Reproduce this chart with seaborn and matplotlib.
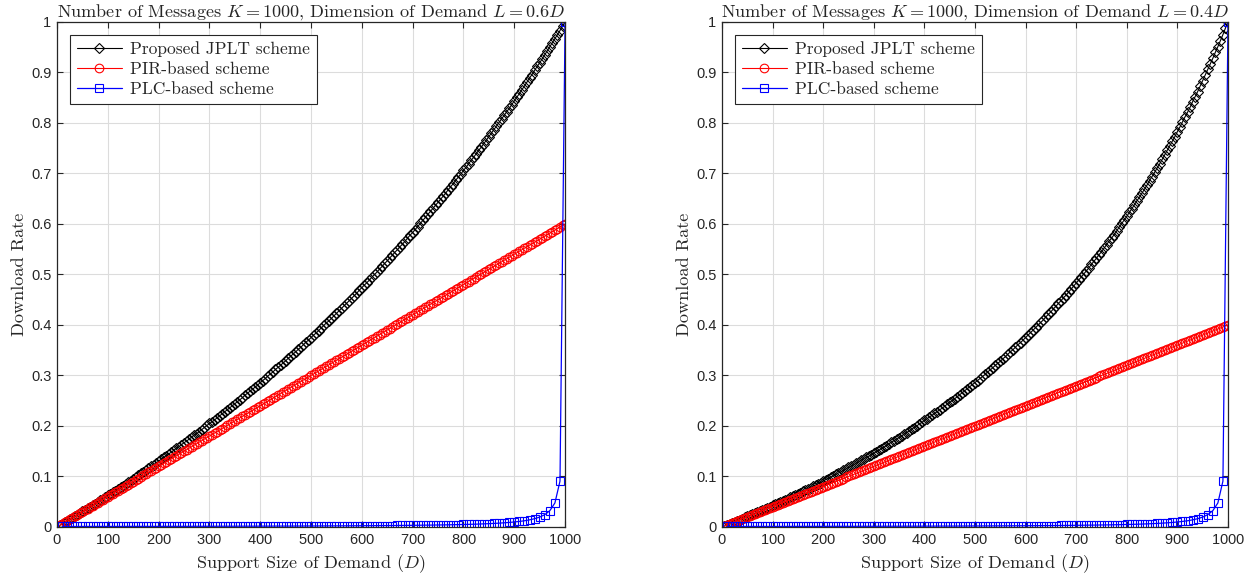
import numpy as np
import pandas as pd
import seaborn as sns
import matplotlib.pyplot as plt

# support size of demand D: JPLT / PIR marked every 5, PLC every 10
D5 = np.arange(5, 1001, 5)
D10 = np.arange(10, 1001, 10)

# left panel, L = 0.6D
jplt_06 = [0.003, 0.006, 0.009, 0.012, 0.015, 0.018, 0.021, 0.024, 0.027, 0.031,
           0.034, 0.037, 0.040, 0.043, 0.046, 0.050, 0.053, 0.056, 0.059, 0.063,
           0.066, 0.069, 0.072, 0.076, 0.079, 0.082, 0.086, 0.089, 0.092, 0.096,
           0.099, 0.103, 0.106, 0.109, 0.113, 0.116, 0.120, 0.123, 0.127, 0.130,
           0.134, 0.138, 0.141, 0.145, 0.148, 0.152, 0.156, 0.159, 0.163, 0.167,
           0.170, 0.174, 0.178, 0.182, 0.185, 0.189, 0.193, 0.197, 0.201, 0.205,
           0.208, 0.212, 0.216, 0.220, 0.224, 0.228, 0.232, 0.236, 0.240, 0.244,
           0.248, 0.252, 0.256, 0.261, 0.265, 0.269, 0.273, 0.277, 0.281, 0.286,
           0.290, 0.294, 0.299, 0.303, 0.307, 0.312, 0.316, 0.320, 0.325, 0.329,
           0.334, 0.338, 0.343, 0.347, 0.352, 0.356, 0.361, 0.366, 0.370, 0.375,
           0.380, 0.384, 0.389, 0.394, 0.399, 0.404, 0.408, 0.413, 0.418, 0.423,
           0.428, 0.433, 0.438, 0.443, 0.448, 0.453, 0.458, 0.463, 0.469, 0.474,
           0.479, 0.484, 0.489, 0.495, 0.500, 0.505, 0.511, 0.516, 0.522, 0.527,
           0.533, 0.538, 0.544, 0.549, 0.555, 0.560, 0.566, 0.572, 0.578, 0.583,
           0.589, 0.595, 0.601, 0.607, 0.613, 0.619, 0.625, 0.631, 0.637, 0.643,
           0.649, 0.655, 0.661, 0.668, 0.674, 0.680, 0.687, 0.693, 0.699, 0.706,
           0.712, 0.719, 0.726, 0.732, 0.739, 0.746, 0.752, 0.759, 0.766, 0.773,
           0.780, 0.787, 0.794, 0.801, 0.808, 0.815, 0.822, 0.829, 0.836, 0.844,
           0.851, 0.858, 0.866, 0.873, 0.881, 0.889, 0.896, 0.904, 0.912, 0.919,
           0.927, 0.935, 0.943, 0.951, 0.959, 0.967, 0.975, 0.983, 0.992, 1.000]
pir_06 = [0.003, 0.006, 0.009, 0.012, 0.015, 0.018, 0.021, 0.024, 0.027, 0.030,
          0.033, 0.036, 0.039, 0.042, 0.045, 0.048, 0.051, 0.054, 0.057, 0.060,
          0.063, 0.066, 0.069, 0.072, 0.075, 0.078, 0.081, 0.084, 0.087, 0.090,
          0.093, 0.096, 0.099, 0.102, 0.105, 0.108, 0.111, 0.114, 0.117, 0.120,
          0.123, 0.126, 0.129, 0.132, 0.135, 0.138, 0.141, 0.144, 0.147, 0.150,
          0.153, 0.156, 0.159, 0.162, 0.165, 0.168, 0.171, 0.174, 0.177, 0.180,
          0.183, 0.186, 0.189, 0.192, 0.195, 0.198, 0.201, 0.204, 0.207, 0.210,
          0.213, 0.216, 0.219, 0.222, 0.225, 0.228, 0.231, 0.234, 0.237, 0.240,
          0.243, 0.246, 0.249, 0.252, 0.255, 0.258, 0.261, 0.264, 0.267, 0.270,
          0.273, 0.276, 0.279, 0.282, 0.285, 0.288, 0.291, 0.294, 0.297, 0.300,
          0.303, 0.306, 0.309, 0.312, 0.315, 0.318, 0.321, 0.324, 0.327, 0.330,
          0.333, 0.336, 0.339, 0.342, 0.345, 0.348, 0.351, 0.354, 0.357, 0.360,
          0.363, 0.366, 0.369, 0.372, 0.375, 0.378, 0.381, 0.384, 0.387, 0.390,
          0.393, 0.396, 0.399, 0.402, 0.405, 0.408, 0.411, 0.414, 0.417, 0.420,
          0.423, 0.426, 0.429, 0.432, 0.435, 0.438, 0.441, 0.444, 0.447, 0.450,
          0.453, 0.456, 0.459, 0.462, 0.465, 0.468, 0.471, 0.474, 0.477, 0.480,
          0.483, 0.486, 0.489, 0.492, 0.495, 0.498, 0.501, 0.504, 0.507, 0.510,
          0.513, 0.516, 0.519, 0.522, 0.525, 0.528, 0.531, 0.534, 0.537, 0.540,
          0.543, 0.546, 0.549, 0.552, 0.555, 0.558, 0.561, 0.564, 0.567, 0.570,
          0.573, 0.576, 0.579, 0.582, 0.585, 0.588, 0.591, 0.594, 0.597, 0.600]

# right panel, L = 0.4D
jplt_04 = [0.002, 0.004, 0.006, 0.008, 0.010, 0.012, 0.014, 0.016, 0.019, 0.021,
           0.023, 0.025, 0.027, 0.029, 0.031, 0.034, 0.036, 0.038, 0.040, 0.043,
           0.045, 0.047, 0.049, 0.052, 0.054, 0.056, 0.059, 0.061, 0.064, 0.066,
           0.068, 0.071, 0.073, 0.076, 0.078, 0.081, 0.083, 0.086, 0.088, 0.091,
           0.094, 0.096, 0.099, 0.101, 0.104, 0.107, 0.109, 0.112, 0.115, 0.118,
           0.120, 0.123, 0.126, 0.129, 0.132, 0.135, 0.138, 0.140, 0.143, 0.146,
           0.149, 0.152, 0.155, 0.158, 0.161, 0.165, 0.168, 0.171, 0.174, 0.177,
           0.180, 0.184, 0.187, 0.190, 0.194, 0.197, 0.200, 0.204, 0.207, 0.211,
           0.214, 0.218, 0.221, 0.225, 0.228, 0.232, 0.235, 0.239, 0.243, 0.247,
           0.250, 0.254, 0.258, 0.262, 0.266, 0.270, 0.274, 0.278, 0.282, 0.286,
           0.290, 0.294, 0.298, 0.302, 0.307, 0.311, 0.315, 0.320, 0.324, 0.328,
           0.333, 0.337, 0.342, 0.347, 0.351, 0.356, 0.361, 0.365, 0.370, 0.375,
           0.380, 0.385, 0.390, 0.395, 0.400, 0.405, 0.410, 0.416, 0.421, 0.426,
           0.432, 0.437, 0.443, 0.448, 0.454, 0.459, 0.465, 0.471, 0.477, 0.483,
           0.489, 0.495, 0.501, 0.507, 0.513, 0.520, 0.526, 0.532, 0.539, 0.545,
           0.552, 0.559, 0.566, 0.572, 0.579, 0.586, 0.594, 0.601, 0.608, 0.615,
           0.623, 0.630, 0.638, 0.646, 0.653, 0.661, 0.669, 0.677, 0.686, 0.694,
           0.702, 0.711, 0.719, 0.728, 0.737, 0.746, 0.755, 0.764, 0.773, 0.783,
           0.792, 0.802, 0.812, 0.821, 0.831, 0.842, 0.852, 0.862, 0.873, 0.884,
           0.895, 0.906, 0.917, 0.928, 0.940, 0.951, 0.963, 0.975, 0.988, 1.000]
pir_04 = [0.002, 0.004, 0.006, 0.008, 0.010, 0.012, 0.014, 0.016, 0.018, 0.020,
          0.022, 0.024, 0.026, 0.028, 0.030, 0.032, 0.034, 0.036, 0.038, 0.040,
          0.042, 0.044, 0.046, 0.048, 0.050, 0.052, 0.054, 0.056, 0.058, 0.060,
          0.062, 0.064, 0.066, 0.068, 0.070, 0.072, 0.074, 0.076, 0.078, 0.080,
          0.082, 0.084, 0.086, 0.088, 0.090, 0.092, 0.094, 0.096, 0.098, 0.100,
          0.102, 0.104, 0.106, 0.108, 0.110, 0.112, 0.114, 0.116, 0.118, 0.120,
          0.122, 0.124, 0.126, 0.128, 0.130, 0.132, 0.134, 0.136, 0.138, 0.140,
          0.142, 0.144, 0.146, 0.148, 0.150, 0.152, 0.154, 0.156, 0.158, 0.160,
          0.162, 0.164, 0.166, 0.168, 0.170, 0.172, 0.174, 0.176, 0.178, 0.180,
          0.182, 0.184, 0.186, 0.188, 0.190, 0.192, 0.194, 0.196, 0.198, 0.200,
          0.202, 0.204, 0.206, 0.208, 0.210, 0.212, 0.214, 0.216, 0.218, 0.220,
          0.222, 0.224, 0.226, 0.228, 0.230, 0.232, 0.234, 0.236, 0.238, 0.240,
          0.242, 0.244, 0.246, 0.248, 0.250, 0.252, 0.254, 0.256, 0.258, 0.260,
          0.262, 0.264, 0.266, 0.268, 0.270, 0.272, 0.274, 0.276, 0.278, 0.280,
          0.282, 0.284, 0.286, 0.288, 0.290, 0.292, 0.294, 0.296, 0.298, 0.300,
          0.302, 0.304, 0.306, 0.308, 0.310, 0.312, 0.314, 0.316, 0.318, 0.320,
          0.322, 0.324, 0.326, 0.328, 0.330, 0.332, 0.334, 0.336, 0.338, 0.340,
          0.342, 0.344, 0.346, 0.348, 0.350, 0.352, 0.354, 0.356, 0.358, 0.360,
          0.362, 0.364, 0.366, 0.368, 0.370, 0.372, 0.374, 0.376, 0.378, 0.380,
          0.382, 0.384, 0.386, 0.388, 0.390, 0.392, 0.394, 0.396, 0.398, 0.400]

# PLC-based scheme looks the same in both panels (every 10)
plc = [0.0010, 0.0010, 0.0010, 0.0010, 0.0011, 0.0011, 0.0011, 0.0011, 0.0011, 0.0011,
       0.0011, 0.0011, 0.0011, 0.0012, 0.0012, 0.0012, 0.0012, 0.0012, 0.0012, 0.0012,
       0.0013, 0.0013, 0.0013, 0.0013, 0.0013, 0.0013, 0.0014, 0.0014, 0.0014, 0.0014,
       0.0014, 0.0015, 0.0015, 0.0015, 0.0015, 0.0016, 0.0016, 0.0016, 0.0016, 0.0017,
       0.0017, 0.0017, 0.0018, 0.0018, 0.0018, 0.0018, 0.0019, 0.0019, 0.0020, 0.0020,
       0.0020, 0.0021, 0.0021, 0.0022, 0.0022, 0.0023, 0.0023, 0.0024, 0.0024, 0.0025,
       0.0026, 0.0026, 0.0027, 0.0028, 0.0028, 0.0029, 0.0030, 0.0031, 0.0032, 0.0033,
       0.0034, 0.0036, 0.0037, 0.0038, 0.0040, 0.0041, 0.0043, 0.0045, 0.0047, 0.0050,
       0.0052, 0.0055, 0.0058, 0.0062, 0.0066, 0.0071, 0.0076, 0.0083, 0.0090, 0.0099,
       0.0110, 0.0123, 0.0141, 0.0164, 0.0196, 0.0244, 0.0323, 0.0476, 0.0909, 1.0000]

labels = ['Proposed JPLT scheme', 'PIR-based scheme', 'PLC-based scheme']
titles = [r'Number of Messages $K=1000$, Dimension of Demand $L=0.6D$',
          r'Number of Messages $K=1000$, Dimension of Demand $L=0.4D$']

sns.set_style('whitegrid')
plt.rcParams['font.family'] = ['Liberation Sans', 'DejaVu Sans']
plt.rcParams['mathtext.fontset'] = 'cm'
plt.rcParams['axes.formatter.use_mathtext'] = True
serif = 'cmr10'

fig = plt.figure(figsize=(12.56, 5.8), dpi=100)
ax1 = fig.add_axes([0.0454, 0.0914, 0.4045, 0.8707])
ax2 = fig.add_axes([0.5748, 0.0914, 0.4029, 0.8707])

panels = [(ax1, jplt_06, pir_06, titles[0]), (ax2, jplt_04, pir_04, titles[1])]
for ax, jp, pr, ttl in panels:
    sns.lineplot(x=D5, y=jp, ax=ax, color='k', marker='D', markersize=5.2,
                 markerfacecolor='none', markeredgecolor='k', markeredgewidth=0.8,
                 linewidth=0.8, label=labels[0])
    sns.lineplot(x=D5, y=pr, ax=ax, color='r', marker='o', markersize=6.2,
                 markerfacecolor='none', markeredgecolor='r', markeredgewidth=0.8,
                 linewidth=0.8, label=labels[1])
    sns.lineplot(x=D10, y=plc, ax=ax, color='b', marker='s', markersize=5.2,
                 markerfacecolor='none', markeredgecolor='b', markeredgewidth=0.8,
                 linewidth=0.9, label=labels[2])
    ax.set_xlim(0, 1000)
    ax.set_ylim(0, 1)
    ax.set_xticks(np.arange(0, 1001, 100))
    ax.set_yticks(np.arange(0, 1.01, 0.1))
    ax.set_yticklabels(['0', '0.1', '0.2', '0.3', '0.4', '0.5', '0.6', '0.7', '0.8', '0.9', '1'])
    ax.grid(True, color='#dcdcdc', linewidth=0.8)
    ax.set_facecolor('white')
    for sp in ax.spines.values():
        sp.set_color('#262626')
        sp.set_linewidth(0.9)
    ax.tick_params(direction='in', length=4, width=0.8, color='#262626',
                   labelsize=10.5, labelcolor='#262626', top=True, right=True,
                   bottom=True, left=True, pad=4)
    ax.set_title(ttl, fontsize=13.1, family=serif, pad=4)
    ax.set_xlabel(r'Support Size of Demand ($D$)', fontsize=13.1, family=serif, labelpad=4)
    ax.set_ylabel('Download Rate', fontsize=13.1, family=serif, labelpad=3)
    leg = ax.legend(loc='upper left', bbox_to_anchor=(0.025, 0.975), borderaxespad=0,
                    fancybox=False, framealpha=1, edgecolor='#262626',
                    prop={'family': serif, 'size': 12.5}, handlelength=2.6,
                    labelspacing=0.25, borderpad=0.4, handletextpad=0.5)
    leg.get_frame().set_linewidth(0.8)

fig.savefig('out.png', dpi=100)
